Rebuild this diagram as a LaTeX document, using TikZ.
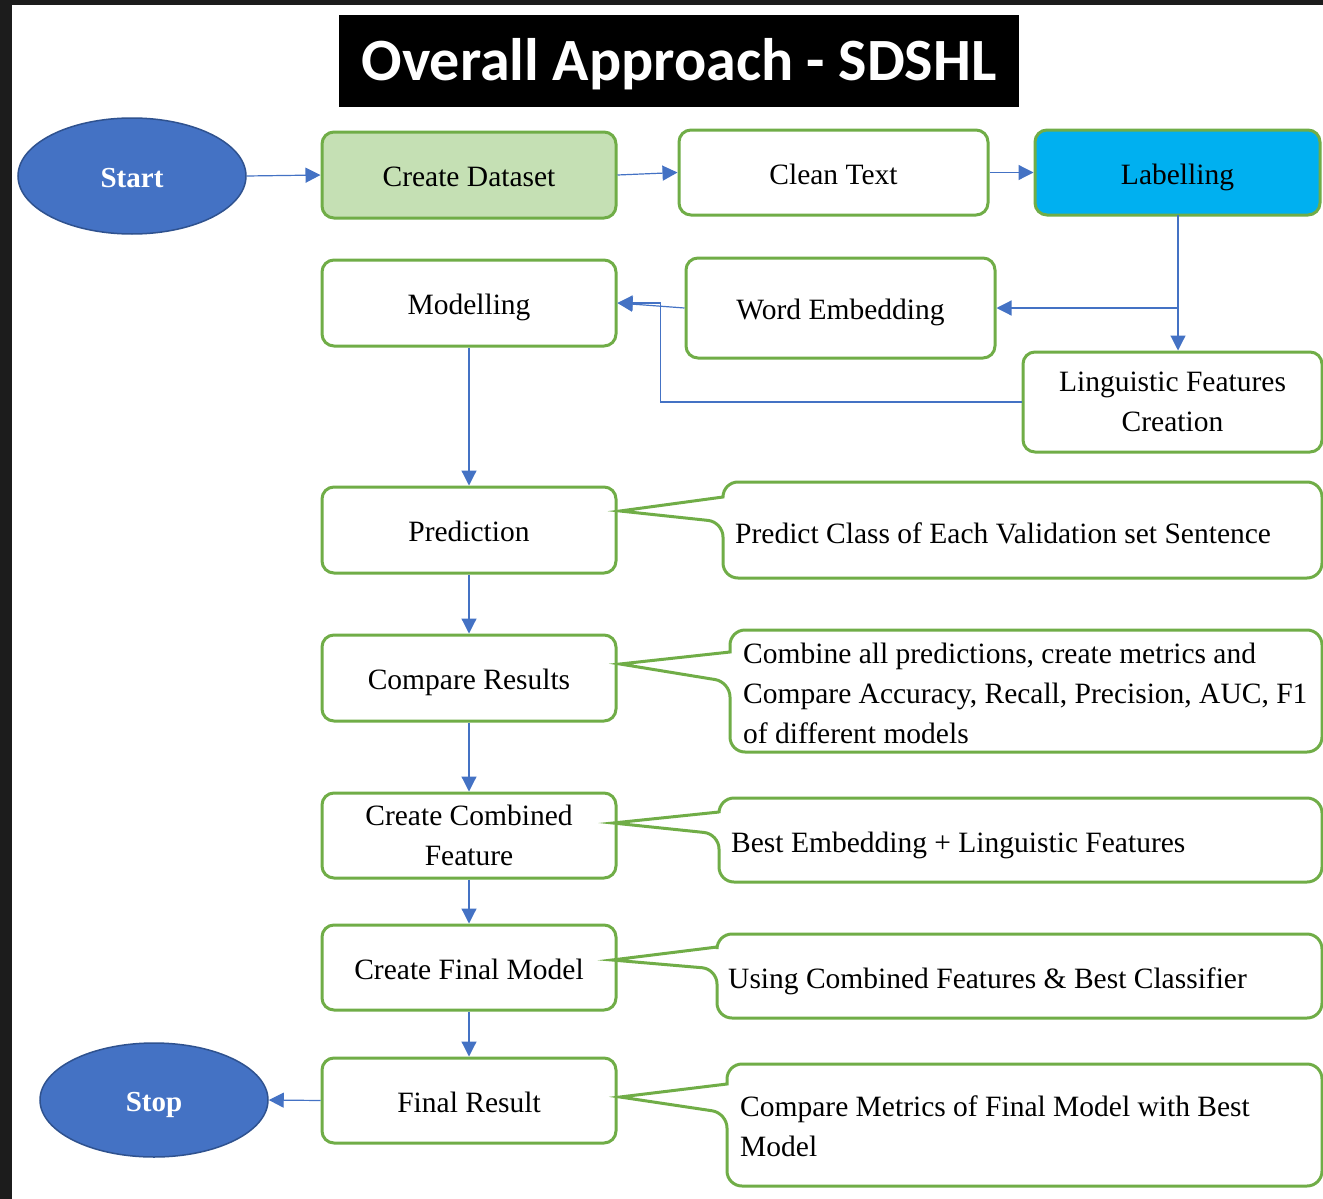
\documentclass[tikz,border=0pt]{standalone}
\usepackage{fontspec}
\setmainfont{Liberation Serif}
\newfontfamily\titlefont{Carlito}
\usetikzlibrary{shapes.geometric,arrows.meta,calc}
\definecolor{bgreen}{HTML}{70AD47}
\definecolor{lgreen}{HTML}{C5E0B4}
\definecolor{cblue}{HTML}{4472C4}
\definecolor{dblue}{HTML}{2F528F}
\definecolor{sky}{HTML}{00B0F0}
\definecolor{framec}{HTML}{1C1C1C}
\begin{document}
\begin{tikzpicture}[x=1pt,y=-1pt,
 box/.style={draw=bgreen, line width=3pt, rounded corners=12pt, fill=white, minimum width=294pt, minimum height=86pt, inner sep=0pt, align=center, font=\fontsize{29.5}{40}\selectfont},
 one/.style={text height=29pt, text depth=6pt},
 term/.style={ellipse, draw=dblue, line width=1.5pt, fill=cblue, minimum width=228pt, minimum height=116pt, inner sep=0pt, text=white, font=\fontsize{29}{34}\selectfont\bfseries, one},
 conn/.style={draw=cblue, line width=1.2pt, -{Triangle[length=15pt,width=15pt]}},
 ctext/.style={anchor=west, align=left, inner sep=0pt, font=\fontsize{29.5}{40}\selectfont},
 callout/.style={draw=bgreen, line width=3pt, rounded corners=15pt, fill=white},
]
\useasboundingbox (0,0) rectangle (1323,1199);
\fill[framec] (0,0) rectangle (1323,1199);
\fill[white] (12,5) rectangle (1323,1199);

% title
\node[fill=black, minimum width=680pt, minimum height=92pt, inner sep=0pt, text=white,
      text height=40pt, text depth=0pt,
      font=\titlefont\bfseries\fontsize{60}{66}\selectfont] (title) at (679,61) {Overall Approach - SDSHL};

% terminals
\node[term] (start) at (132,176) {Start};
\node[term, minimum height=114pt] (stop) at (154,1100) {Stop};

% boxes
\node[box, one, fill=lgreen] (ds) at (469,175) {Create Dataset};
\node[box, one, minimum width=309pt, minimum height=85pt] (clean) at (833.5,172.5) {Clean Text};
\node[box, one, fill=sky, minimum width=285pt, minimum height=85pt] (label) at (1177.5,172.5) {Labelling};
\node[box, one] (model) at (469,303) {Modelling};
\node[box, one, minimum width=309pt, minimum height=100pt] (we) at (840.5,308) {Word Embedding};
\node[box, minimum width=299pt, minimum height=100pt] (ling) at (1172.5,402) {Linguistic Features\\Creation};
\node[box, one] (pred) at (469,530) {Prediction};
\node[box, one] (cmp) at (469,678) {Compare Results};
\node[box, minimum height=85pt] (comb) at (469,835.5) {Create Combined\\Feature};
\node[box, one, minimum height=85pt] (fin) at (469,967.5) {Create Final Model};
\node[box, one, minimum height=85pt] (res) at (469,1100.5) {Final Result};

% callouts
\draw[callout] (723,497) -- (723,482) -- (1322,482) -- (1322,578) -- (723,578) -- (723,522) [sharp corners] -- (620,511) -- cycle;
\draw[callout] (730,652) -- (730,630) -- (1322,630) -- (1322,752) -- (730,752) -- (730,682) [sharp corners] -- (620,664) -- cycle;
\draw[callout] (719,812) -- (719,798) -- (1322,798) -- (1322,882) -- (719,882) -- (719,834) [sharp corners] -- (613,823) -- cycle;
\draw[callout] (717,947) -- (717,934) -- (1322,934) -- (1322,1018) -- (717,1018) -- (717,969) [sharp corners] -- (612,960) -- cycle;
\draw[callout] (727,1084) -- (727,1064) -- (1322,1064) -- (1322,1186) -- (727,1186) -- (727,1113) [sharp corners] -- (620,1097) -- cycle;

\node[ctext, one] (t1) at (735,532) {Predict Class of Each Validation set Sentence};
\node[ctext] (t2) at (743,693) {Combine all predictions, create metrics and\\Compare Accuracy, Recall, Precision, AUC, F1\\of different models};
\node[ctext, one] (t3) at (731,841) {Best Embedding + Linguistic Features};
\node[ctext, one] (t4) at (728,977) {Using Combined Features \& Best Classifier};
\node[ctext] (t5) at (740,1126) {Compare Metrics of Final Model with Best\\Model};

% connectors
\draw[conn] (start.east) -- (ds.west);
\draw[conn] (ds.east) -- (clean.west);
\draw[conn] (clean.east) -- (label.west);
\coordinate (lb) at (1178,215);
\coordinate (br) at (1178,308);
\draw[conn] (lb) -- (lb |- ling.north);
\draw[conn] (br) -- (we.east);
\draw[conn] (we.west) -- (model.east);
\draw[conn] (ling.west) -| ($(model.east)+(43,0)$) -- (model.east);
\draw[conn] (model.south) -- (pred.north);
\draw[conn] (pred.south) -- (cmp.north);
\draw[conn] (cmp.south) -- (comb.north);
\draw[conn] (comb.south) -- (fin.north);
\draw[conn] (fin.south) -- (res.north);
\draw[conn] (res.west) -- (stop.east);
\end{tikzpicture}
\end{document}
